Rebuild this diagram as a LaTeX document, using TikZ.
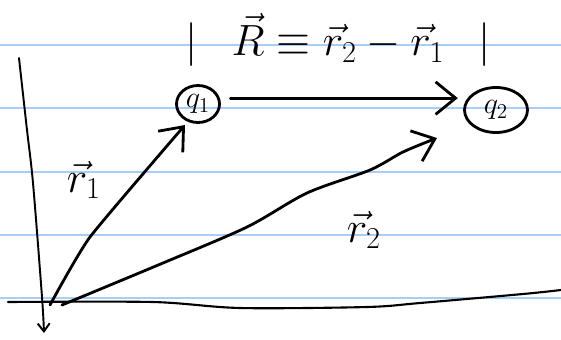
\documentclass[tikz,border=0pt]{standalone}
\usepackage{amsmath}
\usepackage{amssymb}
\usepackage{xcolor}
\usepackage{tikz}
\usetikzlibrary{arrows.meta,positioning,shapes.geometric}
\definecolor{Rule}{HTML}{A8CEF6}
\definecolor{Ink}{HTML}{000000}

\begin{document}
\begin{tikzpicture}[x=0.02cm, y=-0.02cm, every node/.style={font=\huge},
    ink/.style={draw=Ink, line width=1.6pt, line cap=round, line join=round},
    vecarrow/.style={ink, -{Straight Barb[length=4mm, width=6.5mm]}},
    charge/.style={ink, ellipse, inner sep=0pt, font=\LARGE}]
  \useasboundingbox (0,0) rectangle (561,339);
  \foreach \y in {45,108,172,235,298}
    \draw[Rule, line width=1.1pt] (0,\y) -- (561,\y);

  % axes
  \coordinate (ytop) at (19,58);
  \coordinate (ybot) at (44,333);
  \coordinate (xleft) at (8,302);
  \coordinate (xright) at (561,290);
  \draw[ink, line width=1.1pt, -{Straight Barb[length=1.6mm, width=2.4mm]}] plot[smooth] coordinates {(ytop) (27,130) (33,183) (42,297) (ybot)};
  \draw[ink, line width=1.2pt] plot[smooth] coordinates {(xleft) (153,302) (240,308) (367,307) (420,303) (523,294) (xright)};

  % charges
  \node[charge, minimum width=0.86cm, minimum height=0.74cm] (q1) at (198,104) {$q_1$};
  \node[charge, minimum width=1.26cm, minimum height=0.9cm] (q2) at (496,110) {$q_2$};

  \coordinate (o1) at (50,305);
  \coordinate (o2) at (62,305);
  \coordinate (e1) at (185,125);
  \coordinate (e2) at (437,138);
  \draw[vecarrow] plot[smooth, tension=0.3] coordinates {(o1) (90,237) (e1)};
  \draw[vecarrow] plot[smooth] coordinates {(o2) (163,263) (247,227) (307,193) (370,170) (403,152) (e2)};
  \draw[vecarrow, shorten <=6pt, shorten >=3pt] (q1.15) -- (q2.west |- q1.15);

  % labels
  \node[font=\fontsize{24}{28}\selectfont] (r1) at (84,180) {$\vec r_1$};
  \node[font=\fontsize{24}{28}\selectfont] (r2) at (364,230) {$\vec r_2$};
  \node[font=\fontsize{26}{30}\selectfont] (sep) at (338,40) {$\lvert\hspace{0.75em}\vec R \equiv \vec r_2 - \vec r_1\hspace{0.75em}\rvert$};
\end{tikzpicture}
\end{document}
